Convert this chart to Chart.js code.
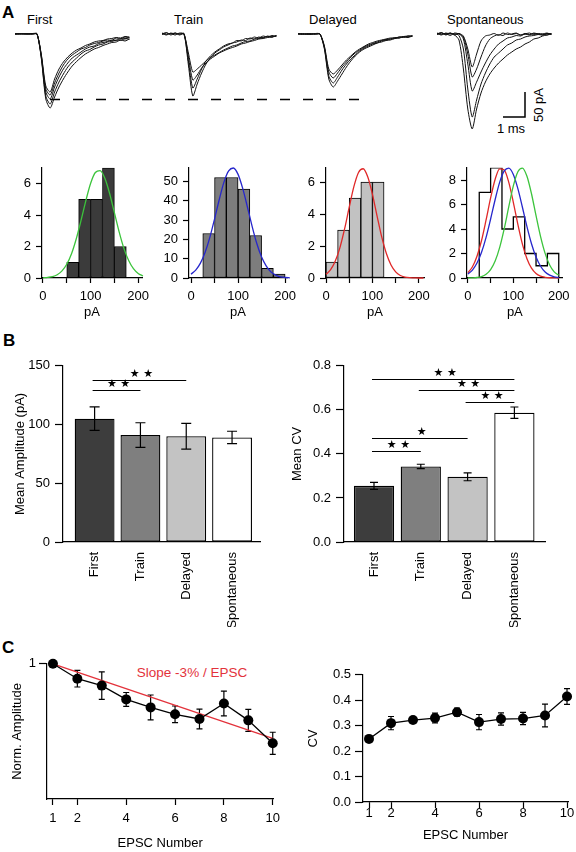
<!DOCTYPE html>
<html>
<head>
<meta charset="utf-8">
<script src="https://cdn.jsdelivr.net/npm/chart.js@4.4.1/dist/chart.umd.min.js"></script>
<style>
  body { margin: 0; background: #fff; }
  #fig { position: relative; width: 576px; height: 852px; overflow: hidden; font-family: "Liberation Sans", Arial, sans-serif; color: #000; }
  #fig canvas { position: absolute; }
  .t { position: absolute; font-size: 13px; line-height: 1; white-space: nowrap; }
  .p { font-weight: bold; font-size: 17px; }
  .c { transform: translate(-50%, -50%); }
</style>
</head>
<body>
<div id="fig">
  <div class="t p" style="left:2px;top:4px">A</div>
  <div class="t p" style="left:3px;top:332px">B</div>
  <div class="t p" style="left:2px;top:639px">C</div>
  <div class="t" style="left:27px;top:13px">First</div>
  <div class="t" style="left:174px;top:13px">Train</div>
  <div class="t" style="left:309px;top:13px">Delayed</div>
  <div class="t" style="left:447px;top:13px">Spontaneous</div>
  <div class="t" style="left:538px;top:105px;transform:translate(-50%,-50%) rotate(-90deg)">50 pA</div>
  <div class="t c" style="left:511px;top:128px">1 ms</div>
  <div class="t c" style="left:192px;top:673px;color:#e3323b;font-size:13.5px">Slope -3% / EPSC</div>
</div>
<script>
// ---------- data ----------
// sample traces, pA, one value every 0.2 ms
const dt = 0.2;
const firstTraces = [
  [0,0,1,0,1,0,-50,-130,-148,-126,-106,-90,-76,-64,-55,-47,-40,-35,-30,-27,-23,-20,-17,-16,-12,-14,-10],
  [0,1,0,0,0,1,-48,-124,-140,-116,-96,-80,-66,-56,-48,-40,-34,-31,-26,-22,-20,-16,-15,-12,-13,-9,-11],
  [1,0,0,1,0,0,-46,-116,-130,-106,-86,-70,-58,-48,-42,-36,-30,-26,-24,-19,-17,-15,-12,-13,-9,-10,-7],
  [0,0,1,0,0,0,-44,-110,-122,-98,-78,-62,-50,-42,-36,-30,-27,-22,-19,-17,-14,-12,-13,-8,-10,-6,-8],
  [0,1,0,0,1,0,-42,-104,-116,-90,-70,-56,-46,-38,-32,-28,-23,-20,-16,-14,-13,-10,-9,-7,-8,-5,-6]
];
const trainTraces = [
  [0,3,-2,2,-1,1,-62,-124,-100,-78,-60,-48,-38,-32,-26,-22,-18,-16,-12,-13,-8,-10,-6,-8,-4,-6,-3],
  [2,-1,1,-2,2,0,-54,-108,-90,-70,-54,-44,-36,-30,-24,-20,-18,-13,-14,-9,-10,-6,-8,-4,-6,-3,-5],
  [-1,2,0,2,-2,1,-46,-92,-82,-68,-58,-50,-44,-38,-34,-30,-27,-24,-20,-18,-15,-13,-10,-9,-7,-6,-4],
  [1,-2,2,0,1,-1,-38,-76,-70,-62,-54,-47,-42,-37,-32,-28,-24,-22,-18,-15,-14,-10,-9,-7,-5,-6,-3]
];
const delayedTraces = [
  [0,1,0,-1,1,0,-30,-90,-106,-94,-80,-66,-54,-44,-36,-30,-26,-22,-18,-16,-13,-12,-9,-8,-6,-7,-4],
  [1,0,-1,0,0,0,-28,-84,-98,-86,-72,-60,-50,-42,-34,-28,-24,-20,-18,-14,-12,-10,-9,-6,-7,-4,-5],
  [0,-1,1,0,1,0,-26,-76,-88,-78,-66,-56,-46,-38,-32,-26,-22,-19,-16,-13,-11,-10,-7,-8,-5,-6,-3],
  [0,0,0,1,-1,0,-24,-70,-80,-72,-62,-52,-44,-36,-30,-25,-20,-17,-14,-12,-10,-8,-8,-6,-5,-4,-4]
];
const spontTraces = [
  [0,3,-2,2,-1,1,-4,-30,-66,-40,-14,-4,-2,1,-3,2,-1,0,2,-2,1,-1,2,0,-2,1,0],
  [2,-1,1,-3,2,0,-6,-40,-86,-70,-46,-24,-10,-4,-1,-3,2,-1,1,-2,0,2,-1,1,0,-2,1],
  [-1,2,0,2,-2,1,-10,-60,-114,-96,-76,-58,-42,-30,-20,-14,-8,-6,-3,-4,0,-2,1,-1,0,2,-1],
  [1,-2,2,0,1,-3,-30,-110,-166,-132,-100,-78,-60,-46,-38,-30,-22,-18,-12,-10,-6,-4,-3,-1,-2,1,0],
  [0,2,-1,1,-2,-12,-70,-150,-190,-150,-118,-96,-80,-68,-58,-50,-42,-36,-30,-26,-20,-16,-10,-8,-4,-2,0]
];

// amplitude histograms (25 pA bins)
const binEdges = [0, 25, 50, 75, 100, 125, 150, 175, 200];
const firstCounts = [0, 0, 1, 5, 5, 7, 2, 0];
const trainCounts = [0, 23, 52, 52, 46, 22, 5, 2];
const delayedCounts = [1, 3, 5, 6, 6, 0, 0, 0];
const spontCounts = [0, 7, 9, 4, 5, 2, 1, 2];

// gaussian fits, every 10 pA
const fitX = [0,10,20,30,40,50,60,70,80,90,100,110,120,130,140,150,160,170,180,190,200,210];
const firstFit = [0.01,0.04,0.09,0.21,0.45,0.87,1.54,2.49,3.66,4.90,6.0,6.70,6.82,6.34,5.37,4.15,2.93,1.88,1.11,0.59,0.29,0.13];
const trainFit = [2.0,4.1,7.7,13.3,21.0,30.5,40.6,49.6,55.4,56.9,53.6,46.2,36.6,26.6,17.7,10.8,6.1,3.1,1.5,0.6,0.25,0.1];
const delayedFit = [0.23,0.52,1.06,1.90,3.07,4.43,5.72,6.61,6.84,6.32,5.24,3.88,2.57,1.53,0.81,0.38,0.16,0.06,0.02,0.01,0,0];
const spontFitRed = [0.43,0.92,1.78,3.06,4.74,6.54,8.07,8.92,8.82,7.81,6.18,4.38,2.77,1.58,0.80,0.36,0.15,0.06,0.02,0.01,0];
const spontFitBlue = [0.32,0.65,1.22,2.1,3.32,4.82,6.41,7.83,8.75,8.98,8.46,7.3,5.78,4.2,2.8,1.71,0.96,0.49,0.23,0.1,0.04];
const spontFitGreen = [0,0.01,0.04,0.12,0.31,0.69,1.39,2.5,4.03,5.82,7.52,8.68,8.98,8.31,6.88,5.09,3.38,2.01,1.06,0.5,0.22];

// panel B
const groups = ['First', 'Train', 'Delayed', 'Spontaneous'];
const ampMean = [105, 91, 90, 89];
const ampErr = [10, 10.5, 11, 5.3];
const cvMean = [0.255, 0.343, 0.296, 0.587];
const cvErr = [0.016, 0.01, 0.018, 0.026];
// significance bars: [from group, to group, level, stars]
const ampSig = [[1, 2, 129, '★ ★'], [1, 3, 137.7, '★ ★']];
const cvSig = [[1, 4, 0.739, '★ ★'], [2, 4, 0.69, '★ ★'], [3, 4, 0.635, '★ ★'], [1, 3, 0.471, '★'], [1, 2, 0.414, '★ ★']];

// panel C
const epsc = [1, 2, 3, 4, 5, 6, 7, 8, 9, 10];
const normAmp = [1.0, 0.946, 0.921, 0.871, 0.842, 0.817, 0.80, 0.856, 0.795, 0.712];
const normAmpErr = [0, 0.03, 0.05, 0.025, 0.045, 0.03, 0.036, 0.045, 0.04, 0.04];
const slopeX = [1, 10];
const slopeY = [1.0, 0.73];
const cv = [0.248, 0.31, 0.322, 0.33, 0.353, 0.314, 0.326, 0.328, 0.34, 0.415];
const cvErrN = [0.01, 0.026, 0.01, 0.019, 0.016, 0.03, 0.024, 0.024, 0.045, 0.031];
const epscTicks = [1, 2, 4, 6, 8, 10];

// ---------- helpers ----------
Chart.defaults.font.family = '"Liberation Sans", Arial, sans-serif';
Chart.defaults.font.size = 13;
Chart.defaults.color = '#000';
Chart.defaults.animation = false;
Chart.defaults.responsive = false;
Chart.defaults.devicePixelRatio = 1;
Chart.defaults.plugins.legend.display = false;
Chart.defaults.plugins.tooltip.enabled = false;

const fig = document.getElementById('fig');
function canvasAt(left, top, w, h) {
  const c = document.createElement('canvas');
  c.width = w; c.height = h;
  c.style.left = left + 'px'; c.style.top = top + 'px';
  fig.appendChild(c);
  return c;
}

function axis(o) {
  return {
    type: 'linear', min: o.min, max: o.max, offset: false,
    border: { display: true, color: '#000', width: 1.2 },
    grid: { offset: false, drawOnChartArea: false, drawTicks: o.drawTicks !== false, tickLength: o.tickLength || 5, tickColor: '#000', tickWidth: 1.2 },
    ticks: { padding: o.pad, autoSkip: false, maxRotation: o.rot || 0, minRotation: o.rot || 0, callback: o.label || (v => v) },
    title: o.title ? { display: true, text: o.title, padding: 0, font: { size: 13 } } : { display: false },
    afterBuildTicks: o.ticks ? s => { s.ticks = o.ticks.map(v => ({ value: v })); } : undefined,
    afterFit: s => { if (s.isHorizontal()) s.height = o.size; else s.width = o.size; }
  };
}

function drawErrors(chart, opts) {
  if (!opts || !opts.errors) return;
  const meta = chart.getDatasetMeta(0);
  const y = chart.scales.y, ctx = chart.ctx, cap = opts.cap;
  ctx.save();
  ctx.strokeStyle = '#000';
  ctx.lineWidth = 1.2;
  meta.data.forEach((el, i) => {
    const e = opts.errors[i];
    if (!e) return;
    const v = chart.data.datasets[0].data[i].y;
    const y1 = y.getPixelForValue(v + e), y2 = y.getPixelForValue(v - e);
    ctx.beginPath();
    ctx.moveTo(el.x, y1); ctx.lineTo(el.x, y2);
    ctx.moveTo(el.x - cap, y1); ctx.lineTo(el.x + cap, y1);
    ctx.moveTo(el.x - cap, y2); ctx.lineTo(el.x + cap, y2);
    ctx.stroke();
  });
  ctx.restore();
}
const errPlugin = {
  id: 'errbars',
  beforeDatasetsDraw(chart, a, opts) { if (opts.under) drawErrors(chart, opts); },
  afterDatasetsDraw(chart, a, opts) { if (!opts.under) drawErrors(chart, opts); }
};
const sigPlugin = {
  id: 'sig',
  afterDatasetsDraw(chart, a, opts) {
    if (!opts.items) return;
    const x = chart.scales.x, y = chart.scales.y, ctx = chart.ctx;
    ctx.save();
    ctx.strokeStyle = '#000';
    ctx.fillStyle = '#000';
    ctx.lineWidth = 1.2;
    ctx.font = '11px "DejaVu Sans"';
    ctx.textAlign = 'center';
    ctx.textBaseline = 'middle';
    opts.items.forEach(([from, to, level, stars]) => {
      const x1 = x.getPixelForValue(from) - 2, x2 = x.getPixelForValue(to);
      const py = Math.round(y.getPixelForValue(level)) + 0.5;
      ctx.beginPath(); ctx.moveTo(x1, py); ctx.lineTo(x2, py); ctx.stroke();
      ctx.fillText(stars, (x1 + x2) / 2 + 2, py - 6.5);
    });
    ctx.restore();
  }
};

// ---------- A: traces ----------
const pxPerMs = 22;
const traceStarts = [15, 162, 298, 437];   // px where each group starts
const traceSets = [];
[firstTraces, trainTraces, delayedTraces, spontTraces].forEach((g, gi) => {
  const t0 = traceStarts[gi] / pxPerMs;
  g.forEach(tr => traceSets.push({
    data: tr.map((v, i) => ({ x: t0 + i * dt, y: v })),
    borderColor: '#111', borderWidth: 1, pointRadius: 0, tension: 0.25, clip: false
  }));
});
traceSets.push({ data: [{ x: 50 / pxPerMs, y: -131 }, { x: 365 / pxPerMs, y: -131 }],
  borderColor: '#000', borderWidth: 1.5, borderDash: [10, 13], pointRadius: 0 });
traceSets.push({ data: [{ x: 503 / pxPerMs, y: -166 }, { x: 503 / pxPerMs + 1, y: -166 }, { x: 503 / pxPerMs + 1, y: -116 }],
  borderColor: '#000', borderWidth: 1.5, pointRadius: 0 });
new Chart(canvasAt(0, 0, 576, 140), {
  type: 'line',
  data: { datasets: traceSets },
  options: {
    layout: { padding: 0 },
    scales: {
      x: { type: 'linear', display: false, min: 0, max: 576 / pxPerMs },
      y: { type: 'linear', display: false, min: -212, max: 68 }
    }
  }
});

// ---------- A: histograms ----------
function histChart(pos, h) {
  const ds = [];
  if (h.counts) ds.push({
    type: 'bar',
    data: h.counts.map((c, i) => ({ x: binEdges[i] + 12.5, y: c })).filter(p => p.y > 0),
    backgroundColor: h.fill, borderColor: '#000', borderWidth: 1, borderSkipped: false,
    categoryPercentage: 1, barPercentage: 1, order: 2
  });
  if (h.step) ds.push({
    type: 'line',
    data: binEdges.map((x, i) => ({ x: x, y: i < h.step.length ? h.step[i] : 0 })),
    stepped: 'before', borderColor: '#000', borderWidth: 1.3, pointRadius: 0, order: 3
  });
  h.fits.forEach(([vals, col]) => ds.push({
    type: 'line',
    data: vals.map((v, i) => ({ x: fitX[i], y: v })),
    borderColor: col, borderWidth: 1.3, pointRadius: 0, cubicInterpolationMode: 'monotone', order: 1, clip: false
  }));
  new Chart(canvasAt(pos.left, pos.top, pos.w, pos.h), {
    type: 'bar',
    data: { datasets: ds },
    options: {
      layout: { padding: { top: 8, right: pos.w - 30 - pos.cw, left: 0, bottom: 0 } },
      scales: {
        x: axis({ min: h.xMin, max: h.xMax, size: 42, pad: 6, ticks: [0, 50, 100, 150, 200],
          label: v => (v % 100 === 0 ? v : ''), title: 'pA' }),
        y: axis({ min: 0, max: h.yMax, size: 30, pad: 5, tickLength: 6, ticks: h.yTicks })
      }
    }
  });
}
histChart({ left: 12, top: 155, w: 146, h: 165, cw: 100 },
  { counts: firstCounts, fill: '#3b3b3b', fits: [[firstFit, '#3cc43c']], xMin: -2, xMax: 208, yMax: 7, yTicks: [0, 2, 4, 6] });
histChart({ left: 159, top: 155, w: 144, h: 165, cw: 98 },
  { counts: trainCounts, fill: '#7d7d7d', fits: [[trainFit, '#2626cc']], xMin: -4.3, xMax: 204, yMax: 57, yTicks: [0, 10, 20, 30, 40, 50] });
histChart({ left: 296, top: 155, w: 144, h: 165, cw: 98 },
  { counts: delayedCounts, fill: '#c2c2c2', fits: [[delayedFit, '#e02828']], xMin: 0, xMax: 211, yMax: 6.9, yTicks: [0, 2, 4, 6] });
histChart({ left: 437, top: 155, w: 139, h: 165, cw: 99 },
  { step: spontCounts, fits: [[spontFitGreen, '#3cc43c'], [spontFitBlue, '#2626cc'], [spontFitRed, '#e02828']],
    xMin: -2, xMax: 208.6, yMax: 9, yTicks: [0, 2, 4, 6, 8] });

// ---------- B: bar charts ----------
function barChart(pos, b) {
  new Chart(canvasAt(pos.left, pos.top, pos.w, pos.h), {
    type: 'bar',
    data: { datasets: [{
      data: groups.map((g, i) => ({ x: i + 1, y: b.means[i] })),
      backgroundColor: ['#3d3d3d', '#7f7f7f', '#c3c3c3', '#ffffff'],
      borderColor: '#000', borderWidth: 1.3, borderSkipped: false,
      categoryPercentage: 1, barPercentage: b.barPct
    }] },
    options: {
      layout: { padding: { top: 10, right: pos.w - pos.yw - pos.cw, left: 0, bottom: 0 } },
      plugins: { errbars: { errors: b.errs, cap: b.cap }, sig: { items: b.sig } },
      scales: {
        x: axis({ min: b.xMin, max: b.xMax, size: 85, pad: 10, drawTicks: false, rot: 90,
          ticks: [1, 2, 3, 4], label: v => groups[v - 1] }),
        y: axis({ min: 0, max: b.yMax, size: pos.yw, pad: 5, tickLength: 8, ticks: b.yTicks,
          label: b.fmt, title: b.title })
      }
    },
    plugins: [errPlugin, sigPlugin]
  });
}
barChart({ left: 13, top: 353, w: 253, h: 274, yw: 50, cw: 197 },
  { means: ampMean, errs: ampErr, cap: 5, sig: ampSig, xMin: 0.31, xMax: 4.61, barPct: 0.87,
    yMax: 150, yTicks: [0, 50, 100, 150], fmt: v => v, title: 'Mean Amplitude (pA)' });
barChart({ left: 290, top: 353, w: 262, h: 274, yw: 54, cw: 201 },
  { means: cvMean, errs: cvErr, cap: 4, sig: cvSig, xMin: 0.359, xMax: 4.654, barPct: 0.86,
    yMax: 0.8, yTicks: [0, 0.2, 0.4, 0.6, 0.8], fmt: v => v.toFixed(1), title: 'Mean CV' });

// ---------- C: line charts ----------
function lineChart(pos, l) {
  const ds = [{
    data: epsc.map((n, i) => ({ x: n, y: l.vals[i] })),
    borderColor: '#000', borderWidth: 1.3, pointRadius: 5, pointBackgroundColor: '#000',
    pointBorderWidth: 0, clip: false, order: 0
  }];
  if (l.fit) ds.push({
    data: l.fit[0].map((x, i) => ({ x: x, y: l.fit[1][i] })),
    borderColor: '#e3323b', borderWidth: 1.3, pointRadius: 0, clip: false, order: 1
  });
  new Chart(canvasAt(pos.left, pos.top, pos.w, pos.h), {
    type: 'line',
    data: { datasets: ds },
    options: {
      layout: { padding: { top: 10, right: pos.w - pos.yw - pos.cw, left: 0, bottom: 0 } },
      plugins: { errbars: { errors: l.errs, cap: 3, under: true } },
      scales: {
        x: axis({ min: l.xMin, max: l.xMax, size: pos.xh, pad: l.xPad, tickLength: 6, ticks: epscTicks, title: 'EPSC Number' }),
        y: axis({ min: l.yMin, max: l.yMax, size: pos.yw, pad: l.yPad, tickLength: 8, ticks: l.yTicks,
          label: l.fmt, title: l.title })
      }
    },
    plugins: [errPlugin]
  });
}
lineChart({ left: 10, top: 653, w: 276, h: 198, yw: 37, cw: 229, xh: 52 },
  { vals: normAmp, errs: normAmpErr, fit: [slopeX, slopeY], xMin: 0.757, xMax: 10.03, xPad: 6,
    yMin: 0.51, yMax: 1.0, yTicks: [1], fmt: v => v, yPad: 3, title: 'Norm. Amplitude' });
lineChart({ left: 306, top: 663, w: 270, h: 180, yw: 57, cw: 205, xh: 41 },
  { vals: cv, errs: cvErrN, xMin: 0.727, xMax: 10.045, xPad: -2,
    yMin: 0, yMax: 0.5, yTicks: [0, 0.1, 0.2, 0.3, 0.4, 0.5], fmt: v => v.toFixed(1), yPad: 4, title: 'CV' });
</script>
</body>
</html>
